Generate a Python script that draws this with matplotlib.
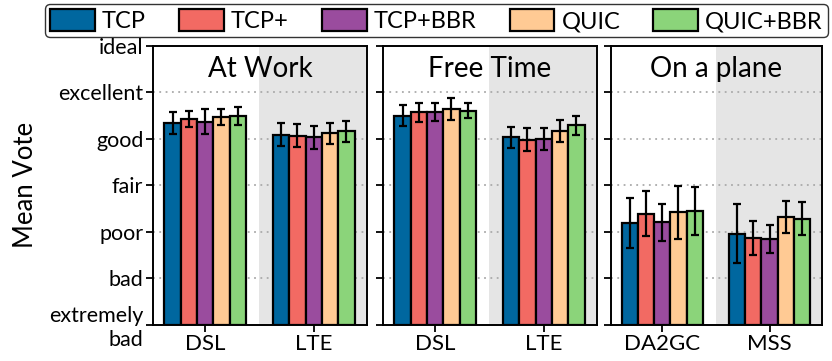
import matplotlib
matplotlib.use("Agg")
import matplotlib.pyplot as plt
import numpy as np

plt.rcParams['font.family'] = ['Lato', 'DejaVu Sans']

series = ["TCP", "TCP+", "TCP+BBR", "QUIC", "QUIC+BBR"]
colors = ["#00679F", "#F26A63", "#9A4C9E", "#FFCA94", "#8BD47A"]

panels = ["At Work", "Free Time", "On a plane"]
groups = [["DSL", "LTE"], ["DSL", "LTE"], ["DA2GC", "MSS"]]

# values[panel][group][series]
values = [
    [[5.34, 5.43, 5.37, 5.47, 5.49], [5.09, 5.07, 5.03, 5.12, 5.16]],
    [[5.50, 5.57, 5.58, 5.64, 5.61], [5.03, 4.98, 5.00, 5.17, 5.29]],
    [[3.18, 3.39, 3.20, 3.42, 3.45], [2.96, 2.86, 2.84, 3.32, 3.28]],
]
errors = [
    [[0.23, 0.18, 0.27, 0.18, 0.20], [0.25, 0.25, 0.24, 0.23, 0.22]],
    [[0.22, 0.20, 0.19, 0.24, 0.16], [0.23, 0.25, 0.24, 0.23, 0.20]],
    [[0.54, 0.48, 0.40, 0.57, 0.52], [0.64, 0.36, 0.31, 0.35, 0.35]],
]

ytick_vals = [1, 2, 3, 4, 5, 6, 7]
ytick_labels = ["extremely\nbad", "bad", "poor", "fair", "good", "excellent", "ideal"]

W, H = 832, 361
fig = plt.figure(figsize=(W / 100, H / 100), dpi=100)

ax_px = [(153, 367), (383, 597), (611, 822)]
top_px, bot_px = 46, 324.5

bw = 0.15
for i, (x0, x1) in enumerate(ax_px):
    ax = fig.add_axes([x0 / W, (H - bot_px) / H, (x1 - x0) / W, (bot_px - top_px) / H])
    ax.set_xlim(-0.48, 1.49)
    ax.set_ylim(1, 7)
    ax.axvspan(0.5, 1.49, color="#E5E5E5", zorder=0, lw=0)
    for y in ytick_vals[1:-1]:
        ax.axhline(y, color="#AAAAAA", ls=(0, (1, 2.5)), lw=1.3, zorder=1)
    for s in range(len(series)):
        xs = np.arange(2) + (s - 2) * bw
        vals = [values[i][g][s] for g in range(2)]
        errs = [errors[i][g][s] for g in range(2)]
        ax.bar(xs, [v - 1 for v in vals], bottom=1, width=bw, color=colors[s],
               edgecolor="black", linewidth=1.6, zorder=2,
               label=series[s] if i == 0 else None)
        ax.errorbar(xs, vals, yerr=errs, fmt="none", ecolor="black",
                    elinewidth=1.6, capsize=3, capthick=1.6, zorder=3)
    ax.set_xticks([0, 1])
    ax.set_xticklabels(groups[i], fontsize=16)
    ax.set_yticks(ytick_vals)
    if i == 0:
        ax.set_yticklabels(ytick_labels, fontsize=15.5, linespacing=1.25)
        ax.set_ylabel("Mean Vote", fontsize=18.5, labelpad=8)
    else:
        ax.set_yticklabels([])
    ax.tick_params(direction="out", length=5, width=1.3, pad=2)
    for sp in ax.spines.values():
        sp.set_linewidth(1.4)
    ax.text(0.5, 0.965, panels[i], transform=ax.transAxes, ha="center", va="top",
            fontsize=20)
    if i == 0:
        handles, labels = ax.get_legend_handles_labels()

leg = fig.legend(handles, labels, loc="upper center", ncol=5,
                 bbox_to_anchor=((44 + 829) / 2 / W, 1 - 4 / H),
                 fontsize=17, frameon=True, fancybox=True,
                 handlelength=1.9, handleheight=1.1, handletextpad=0.3,
                 columnspacing=1.4, borderpad=0.2, borderaxespad=0)
leg.get_frame().set_edgecolor("black")
leg.get_frame().set_linewidth(1.0)

fig.savefig("out.png", dpi=100)
